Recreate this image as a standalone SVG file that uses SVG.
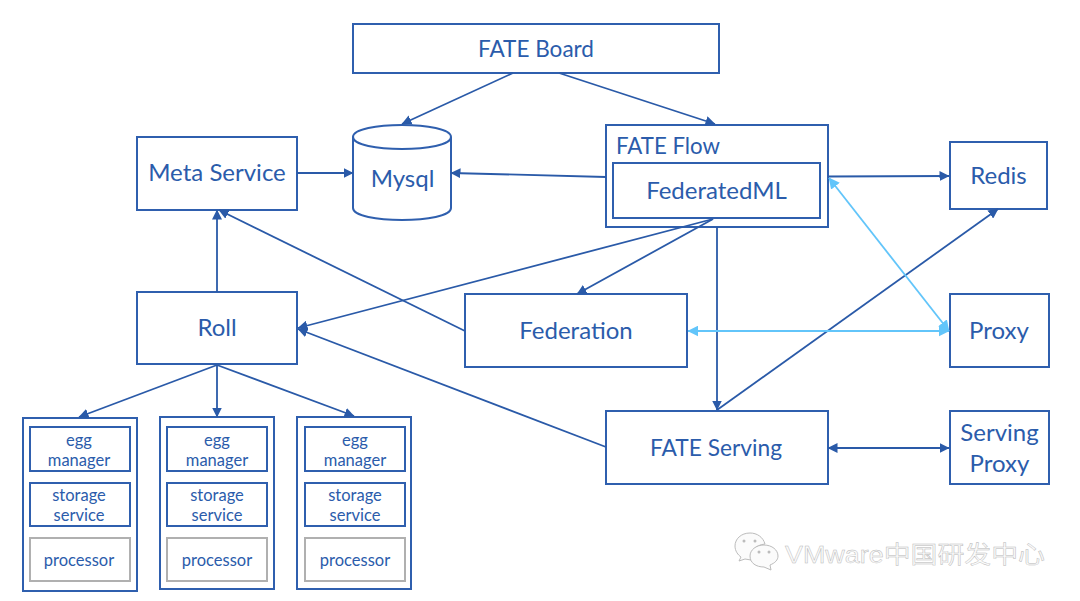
<svg xmlns="http://www.w3.org/2000/svg" width="1080" height="601" viewBox="0 0 1080 601">
<style>
.b{fill:#fff;stroke:#2f5fae;stroke-width:2}
.g{fill:#fff;stroke:#b0b0b0;stroke-width:2}
text{font-family:Lato,"Noto Sans",sans-serif;fill:#2b5cab;text-anchor:middle}
.t1{font-size:24px}
.t2{font-size:16.5px}
.c{fill:none;stroke:#2a5aa8;stroke-width:1.8}
.l{fill:none;stroke:#62c5fa;stroke-width:1.8}
.wm{font-family:"Liberation Sans","Noto Sans CJK SC",sans-serif;font-size:24px;fill:#fbfbfb;stroke:#b8b8b8;stroke-width:.45;text-anchor:start}
.wi{fill:#fbfbfb;stroke:#bcbcbc;stroke-width:1}
.we{fill:#bcbcbc}
</style>
<defs>
<marker id="a" viewBox="0 0 10 10" refX="9.500" refY="5" markerWidth="10" markerHeight="10" markerUnits="userSpaceOnUse" orient="auto-start-reverse"><path d="M0 0L10 5L0 10Z" fill="#2a5aa8"/></marker>
<marker id="al" viewBox="0 0 10 10" refX="9.500" refY="5" markerWidth="11" markerHeight="11" markerUnits="userSpaceOnUse" orient="auto-start-reverse"><path d="M0 0L10 5L0 10Z" fill="#62c5fa"/></marker>
</defs>
<rect width="1080" height="601" fill="#fff"/>
<g id="fate-board"><rect class="b" x="353" y="24" width="366" height="49"/><text class="t1" x="536" y="56.500" textLength="116" lengthAdjust="spacingAndGlyphs">FATE Board</text></g>
<g id="meta-service"><rect class="b" x="137" y="137" width="160" height="73"/><text class="t1" x="217" y="181">Meta Service</text></g>
<g id="mysql"><path class="b" d="M353 137V208C353 224 451 224 451 208V137C451 121 353 121 353 137C353 153 451 153 451 137"/><text class="t1" x="402.500" y="187">Mysql</text></g>
<g id="fate-flow"><rect class="b" x="606" y="125" width="222" height="102"/><text class="t1" x="668" y="154" textLength="104" lengthAdjust="spacingAndGlyphs">FATE Flow</text></g>
<g id="federatedml"><rect class="b" x="613" y="163" width="207" height="55"/><text class="t1" x="716.500" y="199">FederatedML</text></g>
<g id="redis"><rect class="b" x="950" y="142" width="97" height="67"/><text class="t1" x="998.500" y="184">Redis</text></g>
<g id="roll"><rect class="b" x="137" y="292" width="160" height="72"/><text class="t1" x="217" y="336">Roll</text></g>
<g id="federation"><rect class="b" x="465" y="294" width="222" height="73"/><text class="t1" x="576" y="339">Federation</text></g>
<g id="proxy"><rect class="b" x="950" y="294" width="99" height="73"/><text class="t1" x="999" y="339">Proxy</text></g>
<g id="fate-serving"><rect class="b" x="606" y="411" width="222" height="73"/><text class="t1" x="716" y="456" textLength="132" lengthAdjust="spacingAndGlyphs">FATE Serving</text></g>
<g id="serving-proxy"><rect class="b" x="950" y="411" width="99" height="73"/><text class="t1" x="999.500" y="441">Serving</text><text class="t1" x="999.500" y="472">Proxy</text></g>
<g id="egg-1"><rect class="b" x="23" y="418" width="114" height="173"/>
<rect class="b" x="30" y="427" width="100" height="44"/><text class="t2" x="79" y="446">egg</text><text class="t2" x="79" y="466">manager</text>
<rect class="b" x="30" y="483" width="100" height="43"/><text class="t2" x="79" y="501">storage</text><text class="t2" x="79" y="521">service</text>
<rect class="g" x="30" y="538" width="100" height="43"/><text class="t2" x="79" y="566">processor</text></g>
<g id="egg-2"><rect class="b" x="160" y="417" width="114" height="172"/>
<rect class="b" x="167" y="427" width="100" height="44"/><text class="t2" x="217" y="446">egg</text><text class="t2" x="217" y="466">manager</text>
<rect class="b" x="167" y="483" width="100" height="43"/><text class="t2" x="217" y="501">storage</text><text class="t2" x="217" y="521">service</text>
<rect class="g" x="167" y="538" width="100" height="43"/><text class="t2" x="217" y="566">processor</text></g>
<g id="egg-3"><rect class="b" x="297" y="417" width="114" height="172"/>
<rect class="b" x="305" y="427" width="100" height="44"/><text class="t2" x="355" y="446">egg</text><text class="t2" x="355" y="466">manager</text>
<rect class="b" x="305" y="483" width="100" height="43"/><text class="t2" x="355" y="501">storage</text><text class="t2" x="355" y="521">service</text>
<rect class="g" x="305" y="538" width="100" height="43"/><text class="t2" x="355" y="566">processor</text></g>
<g id="connectors">
<path class="c" marker-end="url(#a)" d="M513 73L402 124"/>
<path class="c" marker-end="url(#a)" d="M559 73L715 124"/>
<path class="c" marker-end="url(#a)" d="M297 173L353 173"/>
<path class="c" marker-end="url(#a)" d="M606 177L451 173"/>
<path class="c" marker-end="url(#a)" d="M828 176.500L949 176"/>
<path class="c" marker-end="url(#a)" d="M217 292L217 210"/>
<path class="c" marker-end="url(#a)" d="M465 331L219 210"/>
<path class="c" marker-end="url(#a)" d="M713 219L298 328"/>
<path class="c" marker-end="url(#a)" d="M713 219L577 294"/>
<path class="c" marker-end="url(#a)" d="M717 227L717 410"/>
<path class="c" marker-end="url(#a)" d="M717 410L998 209"/>
<path class="c" marker-end="url(#a)" d="M606 447L298 329"/>
<path class="c" marker-start="url(#a)" marker-end="url(#a)" d="M828 448L949 448"/>
<path class="c" marker-end="url(#a)" d="M217 365L79 417"/>
<path class="c" marker-end="url(#a)" d="M217 365L217 417"/>
<path class="c" marker-end="url(#a)" d="M217 365L354 416"/>
<path class="l" marker-start="url(#al)" marker-end="url(#al)" d="M829 178L949 331"/>
<path class="l" marker-start="url(#al)" marker-end="url(#al)" d="M688 331L949 331"/>
</g>
<path class="wi" d="M750 533C741 533 735 539 735 546C735 551 738 555 741 557L739 561L745 559L751 560C749 552 755 545 765 544C763 537 757 533 750 533Z"/>
<path class="wi" d="M764 545C756 545 750 550 750 556C750 563 756 567 764 567L771 570L770 565C775 563 778 560 778 556C778 550 772 545 764 545Z"/>
<circle class="we" cx="744" cy="541" r="1.500"/><circle class="we" cx="755" cy="541" r="1.500"/><circle class="we" cx="759" cy="552" r="1.500"/><circle class="we" cx="769" cy="552" r="1.500"/>
<text class="wm" x="785" y="563" textLength="260" lengthAdjust="spacingAndGlyphs">VMware中国研发中心</text>
</svg>
